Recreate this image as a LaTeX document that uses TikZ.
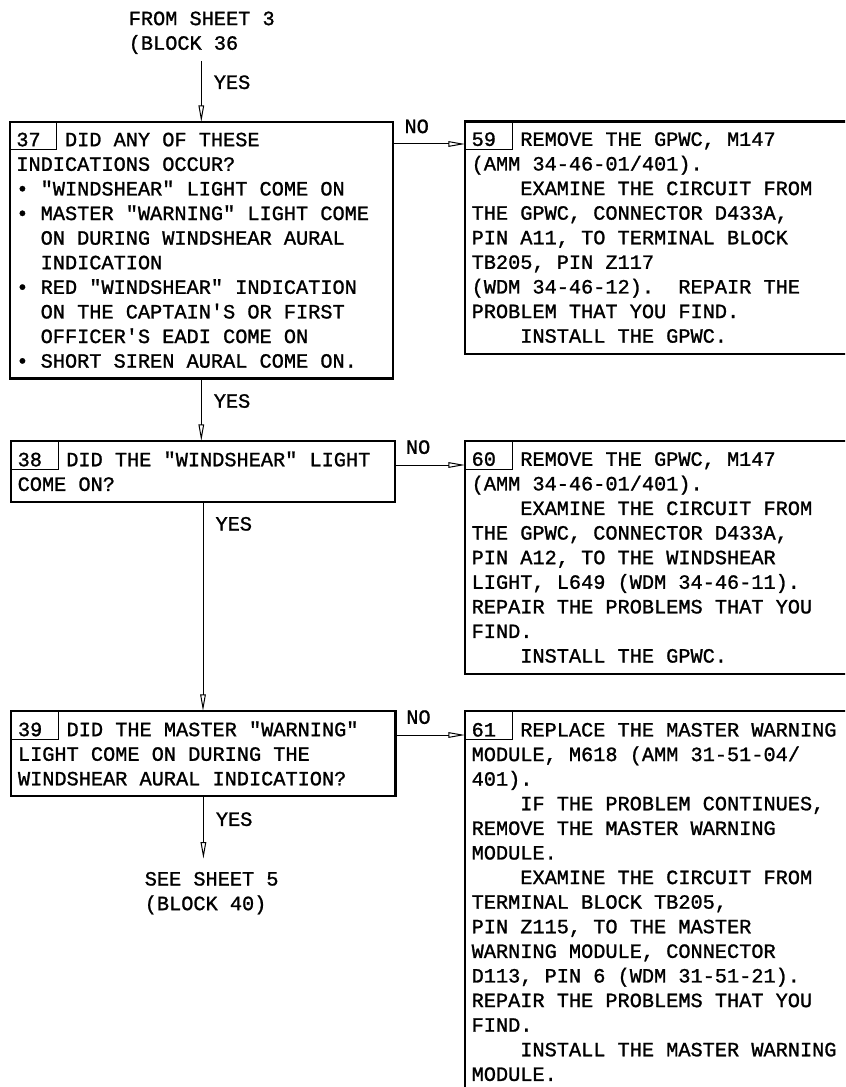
\documentclass[tikz,border=0pt]{standalone}
\usepackage{fontspec}
\usepackage{tikz}
\usetikzlibrary{positioning,arrows.meta,calc}
\newfontfamily\plate[FakeBold=1.2]{Liberation Mono}
\newcommand\platefont{\plate\fontsize{15.2pt}{18.45pt}\selectfont\frenchspacing}
\newcommand\fixspace{\spaceskip=0.6em\relax\xspaceskip=0.6em\relax}
\newcommand\indfour{\phantom{XXXX}}
\newcommand\indtwo{\phantom{XX}}
\tikzset{
    block/.style={draw, line width=1.75pt, anchor=north west, align=left, font=\platefont, execute at begin node=\fixspace, inner xsep=5pt, inner ysep=0pt, outer sep=0pt},
    tag/.style={draw, line width=0.75pt, anchor=north west, minimum width=35.25pt, minimum height=21pt, inner sep=0pt, outer sep=0pt},
    note/.style={anchor=north west, align=left, font=\platefont, execute at begin node=\fixspace, inner sep=0pt},
    lbl/.style={font=\platefont, inner sep=0pt},
    arrow/.style={-{Triangle[open, length=12.5pt, width=4.2pt]}, line width=0.75pt}
}

\begin{document}
\begin{tikzpicture}[x=0.75pt, y=-0.75pt]
\useasboundingbox (0,0) rectangle (845,1087);
\clip (0,0) rectangle (845,1087);
% question column
\node[note] (from36) at (128.5,11.3) {FROM SHEET 3\\(BLOCK 36};
\node[block, text width=277.4pt, minimum height=192.4pt] (b37) at (9.7,122) {37\ \ DID ANY OF THESE\\
INDICATIONS OCCUR?\\
• "WINDSHEAR" LIGHT COME ON\\
• MASTER "WARNING" LIGHT COME\\
\indtwo ON DURING WINDSHEAR AURAL\\
\indtwo INDICATION\\
• RED "WINDSHEAR" INDICATION\\
\indtwo ON THE CAPTAIN'S OR FIRST\\
\indtwo OFFICER'S EADI COME ON\\
• SHORT SIREN AURAL COME ON.};
\node[block, text width=278pt, minimum height=45.5pt] (b38) at (11,441) {38\ \ DID THE "WINDSHEAR" LIGHT\\
COME ON?};
\node[block, text width=278.15pt, minimum height=63.75pt] (b39) at (11.3,711) {39\ \ DID THE MASTER "WARNING"\\
LIGHT COME ON DURING THE\\
WINDSHEAR AURAL INDICATION?};
\node[note] (see40) at (144.5,871.7) {SEE SHEET 5\\(BLOCK 40)};
% action column
\node[block, text width=301.25pt, minimum height=174.15pt] (b59) at (465,121.5) {59\ \ REMOVE THE GPWC, M147\\
(AMM 34-46-01/401).\\
\indfour EXAMINE THE CIRCUIT FROM\\
THE GPWC, CONNECTOR D433A,\\
PIN A11, TO TERMINAL BLOCK\\
TB205, PIN Z117\\
(WDM 34-46-12).\ \ REPAIR THE\\
PROBLEM THAT YOU FIND.\\
\indfour INSTALL THE GPWC.};
\node[block, text width=301.25pt, minimum height=174.75pt] (b60) at (465,441) {60\ \ REMOVE THE GPWC, M147\\
(AMM 34-46-01/401).\\
\indfour EXAMINE THE CIRCUIT FROM\\
THE GPWC, CONNECTOR D433A,\\
PIN A12, TO THE WINDSHEAR\\
LIGHT, L649 (WDM 34-46-11).\\
REPAIR THE PROBLEMS THAT YOU\\
FIND.\\
\indfour INSTALL THE GPWC.};
\node[block, text width=301.25pt, minimum height=286.5pt] (b61) at (465,711) {61\ \ REPLACE THE MASTER WARNING\\
MODULE, M618 (AMM 31-51-04/\\
401).\\
\indfour IF THE PROBLEM CONTINUES,\\
REMOVE THE MASTER WARNING\\
MODULE.\\
\indfour EXAMINE THE CIRCUIT FROM\\
TERMINAL BLOCK TB205,\\
PIN Z115, TO THE MASTER\\
WARNING MODULE, CONNECTOR\\
D113, PIN 6 (WDM 31-51-21).\\
REPAIR THE PROBLEMS THAT YOU\\
FIND.\\
\indfour INSTALL THE MASTER WARNING\\
MODULE.};
% block number tags
\node[tag] (t37) at (b37.north west) {};
\node[tag] (t38) at (b38.north west) {};
\node[tag] (t39) at (b39.north west) {};
\node[tag] (t59) at (b59.north west) {};
\node[tag] (t60) at (b60.north west) {};
\node[tag] (t61) at (b61.north west) {};
% yes path
\draw[arrow] ([yshift=-5pt]from36.south -| b37.north) -- (b37.north) node[lbl, pos=0.35, anchor=west, xshift=9pt] {YES};
\draw[arrow] (b37.south) -- (b37.south |- b38.north) node[lbl, pos=0.36, anchor=west, xshift=9pt] {YES};
\draw[arrow] (b38.south) -- (b38.south |- b39.north) node[lbl, pos=0.106, anchor=west, xshift=9pt] {YES};
\draw[arrow] (b39.south) -- ($(b39.south |- see40.north)+(0,-13)$) node[lbl, pos=0.37, anchor=west, xshift=9pt] {YES};
% no path
\coordinate (no37) at ($(b37.north east)+(0,22)$);
\coordinate (no38) at ($(b38.north east)+(0,24)$);
\coordinate (no39) at ($(b39.north east)+(0,24)$);
\draw[arrow] (no37) -- (no37 -| b59.west) node[lbl, pos=0.33, anchor=base, yshift=8.2pt] {NO};
\draw[arrow] (no38) -- (no38 -| b60.west) node[lbl, pos=0.33, anchor=base, yshift=8.4pt] {NO};
\draw[arrow] (no39) -- (no39 -| b61.west) node[lbl, pos=0.33, anchor=base, yshift=8.4pt] {NO};
\end{tikzpicture}
\end{document}
